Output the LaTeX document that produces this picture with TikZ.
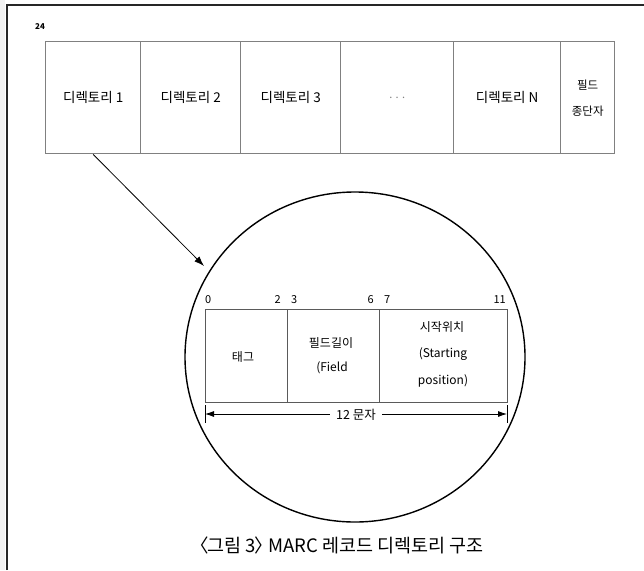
\documentclass[tikz,border=0pt]{standalone}
\usepackage{fontspec}
\setmainfont{Noto Sans CJK KR}
\usetikzlibrary{arrows.meta,shapes.geometric}
\definecolor{boxgray}{RGB}{128,128,128}
\definecolor{innergray}{RGB}{90,90,90}
\begin{document}
\begin{tikzpicture}[x=1pt,y=-1pt,
  cell/.style={draw=boxgray, line width=1.4pt, minimum height=112pt, inner sep=0pt,
    anchor=north west, font=\fontsize{13.5}{15}\selectfont, align=center},
  icell/.style={draw=innergray, line width=1.1pt, minimum height=93pt, inner sep=0pt,
    anchor=north west},
  itext/.style={font=\fontsize{12}{13}\selectfont, inner sep=0pt},
  num/.style={font=\fontsize{11}{12}\selectfont, inner sep=0pt},
  ]
\useasboundingbox (0,0) rectangle (644,570);
\fill[gray!10] (0,0) rectangle (5,570);
\draw[line width=1.4pt, black!85] (7,570) -- (7,5) -- (644,5);
% top record
\node[font=\bfseries\fontsize{8}{9}\selectfont, inner sep=0pt] (n24) at (40,27) {24};
\node[cell, minimum width=95pt] (d1) at (45,41) {디렉토리 1};
\node[cell, minimum width=100pt] (d2) at (140,41) {디렉토리 2};
\node[cell, minimum width=100pt] (d3) at (240,41) {디렉토리 3};
\node[cell, minimum width=113pt, font=\fontsize{11}{13}\selectfont\color{gray}] (dd) at (340,41) {. . .};
\node[cell, minimum width=107pt] (dn) at (453,41) {디렉토리 N};
\node[cell, minimum width=54pt, font=\fontsize{11.5}{26}\selectfont] (ft) at (560,41) {필드\\종단자};
% magnifier
\node[draw, ellipse, line width=1.4pt, minimum width=340pt, minimum height=330pt, inner sep=0pt] (lens) at (355,357) {};
\coordinate (tip) at (204,266);
\draw[line width=0.8pt, -{Latex[length=10pt,width=7pt]}] (d1.south) -- (tip);
% inner directory entry
\node[icell, minimum width=82pt] (tag) at (205,309) {};
\node[icell, minimum width=92pt] (len) at (287,309) {};
\node[icell, minimum width=128pt] (pos) at (379,309) {};
\node[itext] (tagt) at (243,357) {태그};
\node[itext] (lent1) at (331,343) {필드길이};
\node[itext] (lent2) at (332,368) {(Field};
\node[itext] (post1) at (442,327) {시작위치};
\node[itext] (post2) at (443,354) {(Starting};
\node[itext] (post3) at (443,381) {position)};
% position numbers
\node[num, anchor=west] (p0) at (205,300) {0};
\node[num, anchor=east] (p2) at (281,300) {2};
\node[num, anchor=west] (p3) at (291,300) {3};
\node[num, anchor=east] (p6) at (374,300) {6};
\node[num, anchor=west] (p7) at (384,300) {7};
\node[num, anchor=east] (p11) at (506,300) {11};
% dimension line
\coordinate (dl) at (205,414);
\coordinate (dr) at (507,414);
\draw[line width=0.8pt] (205,405) -- (205,423);
\draw[line width=0.8pt] (507,405) -- (507,423);
\draw[line width=0.8pt, {Latex[length=9pt,width=6pt]}-{Latex[length=9pt,width=6pt]}] (dl) -- (dr);
\node[fill=white, inner xsep=6pt, inner ysep=1pt, font=\fontsize{12.5}{14}\selectfont] (dim) at (356,415) {12 문자};
% caption
\node[font=\fontsize{18.5}{20}\selectfont, inner sep=0pt] (cap) at (337,545) {〈\kern-0.05em그림 3\kern-0.1em〉\kern-0.45em{} MARC 레코드 디렉토리 구조};
\end{tikzpicture}
\end{document}
